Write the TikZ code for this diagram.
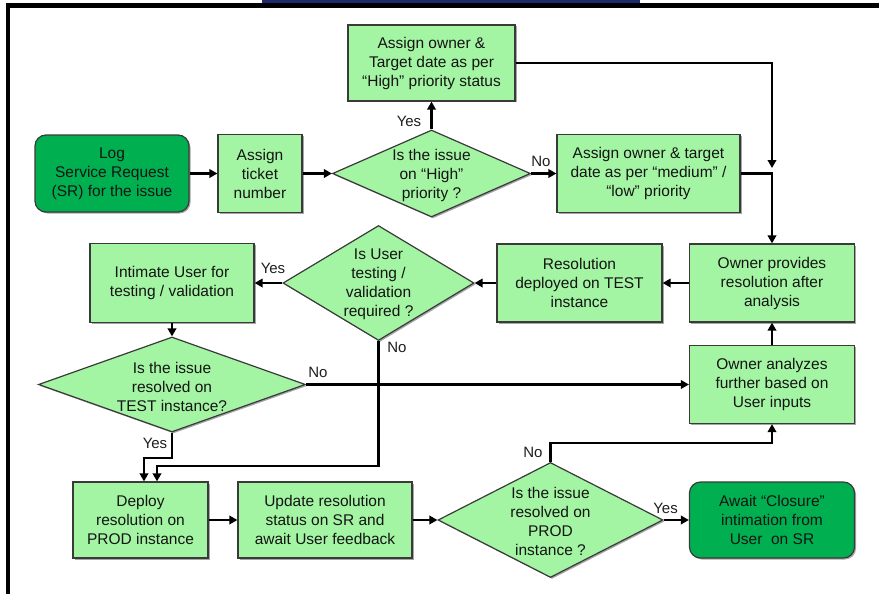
\documentclass[tikz,border=0pt]{standalone}
\usepackage{fontspec}
\setmainfont{Liberation Sans}
\usetikzlibrary{shapes.geometric,arrows.meta,shadows}
\definecolor{lgreen}{HTML}{A3F5A3}
\definecolor{dgreen}{HTML}{00B050}
\definecolor{bord}{HTML}{3A3A3A}
\definecolor{navy}{HTML}{1C2A6E}
\begin{document}
\begin{tikzpicture}[x=1pt,y=-1pt,
  txt/.style={font=\fontsize{15.5}{19}\selectfont, text=black!92, align=center},
  shad/.style={drop shadow={shadow xshift=1.5pt,shadow yshift=-1.5pt,opacity=0.35,fill=black}},
  box/.style={draw=bord, line width=1.2pt, fill=lgreen, inner sep=0pt, txt, shad},
  term/.style={box, fill=dgreen, rounded corners=11pt},
  dia/.style={diamond, draw=bord, line width=1.2pt, fill=lgreen, inner sep=0pt, aspect=1, shad},
  conn/.style={line width=2.8pt, -{Triangle[length=8pt,width=8.5pt]}},
  lab/.style={font=\fontsize{15}{18}\selectfont, text=black!88, inner sep=0pt}
]
\useasboundingbox (0,0) rectangle (879,594);
\fill[white] (0,0) rectangle (879,594);
% frame
\fill[navy] (262,0) rectangle (640,3);
\draw[line width=4.8pt] (8,594) -- (8,5.5) -- (879,5.5);

% nodes
\node[box, minimum width=167pt, minimum height=76pt] (top) at (431.5,63) {Assign owner \&\\Target date as per\\“High” priority status};
\node[term, minimum width=154pt, minimum height=77pt] (log) at (112,173.5) {Log\\Service Request\\(SR) for the issue};
\node[box, minimum width=84pt, minimum height=78pt] (ticket) at (260,173.5) {Assign\\ticket\\number};
\node[dia, minimum width=198pt, minimum height=87pt] (d1) at (431.5,173.5) {};
\node[txt] (d1t) at (431.5,175.5) {Is the issue\\on “High”\\priority ?};
\node[box, minimum width=183pt, minimum height=78pt] (med) at (648.5,173.5) {Assign owner \& target\\date as per “medium” /\\“low” priority};

\node[box, minimum width=164pt, minimum height=79pt] (int) at (172,283) {Intimate User for\\testing / validation};
\node[dia, minimum width=191pt, minimum height=115pt] (d2) at (378.5,283) {};
\node[txt] (d2t) at (378.5,284.5) {Is User\\testing /\\validation\\required ?};
\node[box, minimum width=165pt, minimum height=78pt] (res) at (579.5,283) {Resolution\\deployed on TEST\\instance};
\node[box, minimum width=165pt, minimum height=78pt] (prov) at (772,283) {Owner provides\\resolution after\\analysis};

\node[dia, minimum width=267pt, minimum height=95pt] (d3) at (172,384.5) {};
\node[txt] (d3t) at (172,386.5) {Is the issue\\resolved on\\TEST instance?};
\node[box, minimum width=165pt, minimum height=78pt] (ana) at (772,384.5) {Owner analyzes\\further based on\\User inputs};

\node[box, minimum width=135pt, minimum height=76pt] (dep) at (140.5,520) {Deploy\\resolution on\\PROD instance};
\node[box, minimum width=174pt, minimum height=76pt] (upd) at (325,520) {Update resolution\\status on SR and\\await User feedback};
\node[dia, minimum width=225pt, minimum height=115pt] (d4) at (550.5,520) {};
\node[txt] (d4t) at (550.5,521.5) {Is the issue\\resolved on\\PROD\\instance ?};
\node[term, minimum width=165pt, minimum height=76pt] (clo) at (772,520) {Await “Closure”\\intimation from\\User\ \ on SR};

% coordinates
\coordinate (jn) at (772,168);
\coordinate (n2) at (157,466);
\coordinate (y3) at (144,458);
\coordinate (n4) at (772,443);

% connectors
\draw[conn] (log) -- (ticket);
\draw[conn] (ticket) -- (d1.west);
\draw[conn] (d1.north) -- (top.south);
\draw[conn] (d1.east) -- (med.west);
\draw[conn] (top.east) -| (jn);
\draw[conn] (med.east) -| (prov.north);
\draw[conn] (prov.west) -- (res.east);
\draw[conn] (res.west) -- (d2.east);
\draw[conn] (d2.west) -- (int.east);
\draw[conn] (int.south) -- (d3.north);
\draw[conn] (d3.east) -- (ana.west);
\draw[conn] (ana.north) -- (prov.south);
\draw[conn] (d2.south) |- (n2) -- (n2 |- dep.north);
\draw[conn] (d3.south) |- (y3) -- (y3 |- dep.north);
\draw[conn] (dep.east) -- (upd.west);
\draw[conn] (upd.east) -- (d4.west);
\draw[conn] (d4.north) |- (n4) -- (ana.south);
\draw[conn] (d4.east) -- (clo.west);

% labels
\node[lab] (l1) at (409,121) {Yes};
\node[lab] (l2) at (541,161) {No};
\node[lab] (l3) at (273,268) {Yes};
\node[lab] (l4) at (397,347) {No};
\node[lab] (l5) at (318,372) {No};
\node[lab] (l6) at (155,443) {Yes};
\node[lab] (l7) at (533,452) {No};
\node[lab] (l8) at (665.5,508) {Yes};
\end{tikzpicture}
\end{document}
